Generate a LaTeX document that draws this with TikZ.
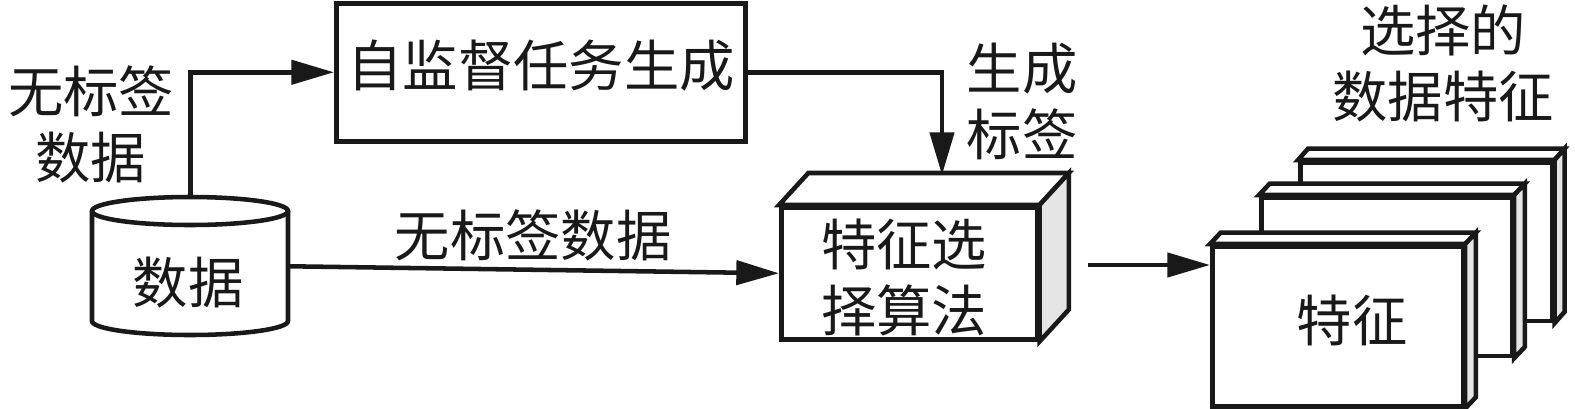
\documentclass[tikz,border=0pt]{standalone}
\usepackage{fontspec}
\setmainfont{Noto Sans CJK SC}
\usetikzlibrary{arrows.meta,calc}
\tikzset{
  line/.style={line width=3.4pt,line join=miter,draw=black!90},
  conn/.style={line,-{Triangle[length=32pt,width=18pt]}},
  boxn/.style={line,fill=white,rectangle,inner sep=0pt,anchor=north west},
  label/.style={font=\fontsize{41.5pt}{41.5pt}\selectfont,inner sep=0pt,text=black!90,align=center},
  side/.style={line,fill=black!10},
  topf/.style={line,fill=white}
}
\newcommand{\boxdepth}[3]{%
  \draw[topf] (#1.north west) -- ++(#2,#3) -- ($(#1.north east)+(#2,#3)$) -- (#1.north east) -- cycle;
  \draw[side] (#1.north east) -- ++(#2,#3) -- ($(#1.south east)+(#2,#3)$) -- (#1.south east) -- cycle;
}
\begin{document}
\begin{tikzpicture}[x=0.75pt,y=-0.75pt]
\useasboundingbox (0,0) rectangle (1575,408);
% data cylinder
\node[inner sep=0pt,minimum width=147pt,minimum height=103.5pt,anchor=north west] (cyl) at (92,197) {};
\draw[line,fill=white] (92,211) -- (92,321) arc[start angle=180,end angle=0,x radius=98,y radius=14] -- (288,211);
\draw[line,fill=white] (190,211) ellipse[x radius=98,y radius=14];
\node[label] (cyllabel) at (188,283) {数据};
% self-supervised task
\node[boxn,minimum width=306.75pt,minimum height=103.5pt] (task) at (334,1) {};
\node[label] (tasklabel) at (541,66) {自监督任务生成};
% algorithm
\node[boxn,minimum width=192pt,minimum height=99pt] (algo) at (779,205) {};
\boxdepth{algo}{22pt}{24pt}
\node[label] (algolabel) at (904,277) {特征选\\[8pt]择算法};
\coordinate (algotop) at (942,175);
% feature stack
\node[boxn,minimum width=189pt,minimum height=119pt] (f3) at (1298,160) {};
\boxdepth{f3}{7.5pt}{8.5pt}
\node[boxn,minimum width=188pt,minimum height=119pt] (f2) at (1259,195) {};
\boxdepth{f2}{8pt}{8.5pt}
\node[boxn,minimum width=188pt,minimum height=120pt] (f1) at (1210,244) {};
\boxdepth{f1}{8pt}{8.5pt}
\node[label] (f1label) at (1352,320) {特征};
% connectors
\draw[conn] (cyl.north) |- (task.west);
\draw[conn] (task.east) -| (algotop);
\draw[conn] (cyl.east) -- (algo.west);
\coordinate (outstart) at (1088,265);
\draw[conn] (outstart) -- (outstart -| f1.west);
% labels
\node[label] (l1) at (91,124) {无标签\\[8pt]数据};
\node[label] (l2) at (1022,101) {生成\\[8pt]标签};
\node[label] (l3) at (533,235) {无标签数据};
\node[label] (l4) at (1443,63) {选择的\\[8pt]数据特征};
\end{tikzpicture}
\end{document}
